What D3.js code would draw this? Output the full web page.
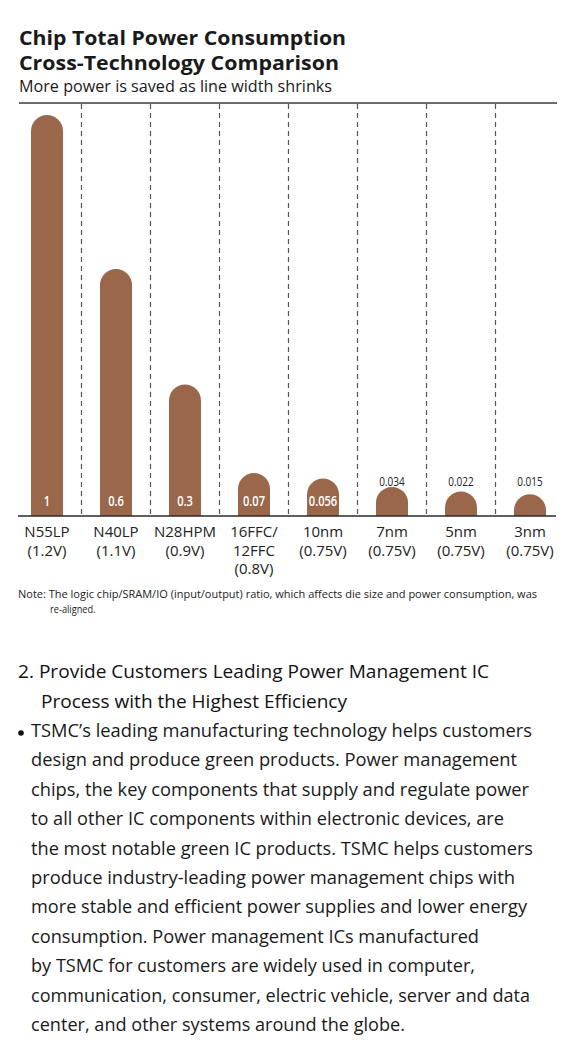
<!DOCTYPE html>
<html><head><meta charset="utf-8">
<script src="https://cdn.jsdelivr.net/npm/d3@7"></script>
<style>
html,body{margin:0;padding:0;background:#fff;}
svg{display:block;}
</style></head>
<body>
<svg id="c" width="582" height="1054"></svg>
<script>
// ---- data ----
const categories = ["N55LP", "N40LP", "N28HPM", "16FFC/12FFC", "10nm", "7nm", "5nm", "3nm"];
const categoryLines = [["N55LP"], ["N40LP"], ["N28HPM"], ["16FFC/", "12FFC"], ["10nm"], ["7nm"], ["5nm"], ["3nm"]];
const voltages = ["1.2V", "1.1V", "0.9V", "0.8V", "0.75V", "0.75V", "0.75V", "0.75V"];
const values = [1, 0.6, 0.3, 0.07, 0.056, 0.034, 0.022, 0.015];
const valueLabels = ["1", "0.6", "0.3", "0.07", "0.056", "0.034", "0.022", "0.015"];

const titleLines = ["Chip Total Power Consumption", "Cross-Technology Comparison"];
const subtitle = "More power is saved as line width shrinks";
const noteLines = ["Note: The logic chip/SRAM/IO (input/output) ratio, which affects die size and power consumption, was", "re-aligned."];
const headingLines = ["2. Provide Customers Leading Power Management IC", "Process with the Highest Efficiency"];
const bodyLines = [
  "TSMC\u2019s leading manufacturing technology helps customers",
  "design and produce green products. Power management",
  "chips, the key components that supply and regulate power",
  "to all other IC components within electronic devices, are",
  "the most notable green IC products. TSMC helps customers",
  "produce industry-leading power management chips with",
  "more stable and efficient power supplies and lower energy",
  "consumption. Power management ICs manufactured",
  "by TSMC for customers are widely used in computer,",
  "communication, consumer, electric vehicle, server and data",
  "center, and other systems around the globe."
];
const bodyWidths = [501, 486, 498, 473, 502, 484, 496, 448, 444, 499, 374];

// ---- layout ----
const svg = d3.select("#c");
const FONT = "'Open Sans','Noto Sans',sans-serif";
const barColor = "#9b674a";
const baseY = 516, topY = 103;
const r = 16;

// condense helper: squeeze text horizontally like a condensed face
function condense(sel, factor) {
  sel.each(function () {
    const w = this.getComputedTextLength();
    d3.select(this).attr("textLength", w * factor).attr("lengthAdjust", "spacingAndGlyphs");
  });
}

// title
svg.selectAll("text.title").data(titleLines).join("text")
  .attr("x", 19).attr("y", (d, i) => 45 + i * 25)
  .attr("font-family", FONT).attr("font-weight", 700).attr("font-size", 20)
  .attr("fill", "#1a1a1a")
  .attr("textLength", (d, i) => [327, 320][i]).attr("lengthAdjust", "spacingAndGlyphs")
  .text(d => d);
svg.append("text").attr("x", 19).attr("y", 92)
  .attr("font-family", FONT).attr("font-size", 16.5).attr("fill", "#1a1a1a")
  .attr("textLength", 313).attr("lengthAdjust", "spacingAndGlyphs")
  .text(subtitle);

// scales
const x = d3.scaleBand().domain(categories).range([12.5, 564.5]).padding(0);
const barW = 2 * r;
const y = d3.scaleLinear().domain([0, 1]).range([baseY, 131]);

// top line
svg.append("line").attr("x1", 19).attr("x2", 557).attr("y1", topY).attr("y2", topY)
  .attr("stroke", "#3a3a3a").attr("stroke-width", 1.6);

// dividers
svg.selectAll("line.div").data(categories.slice(1)).join("line")
  .attr("x1", d => x(d)).attr("x2", d => x(d))
  .attr("y1", topY + 1).attr("y2", baseY)
  .attr("stroke", "#555").attr("stroke-width", 1.2).attr("stroke-dasharray", "5,4");

// bars
const cx = d => x(d) + x.bandwidth() / 2;
svg.selectAll("path.bar").data(values).join("path")
  .attr("fill", barColor)
  .attr("d", (v, i) => {
    const c = cx(categories[i]);
    const x0 = c - r, yy = y(v);
    return `M${x0},${baseY} V${yy} A${r},${r} 0 0 1 ${x0 + barW},${yy} V${baseY} Z`;
  });

// baseline
svg.append("line").attr("x1", 18).attr("x2", 556).attr("y1", baseY).attr("y2", baseY)
  .attr("stroke", "#2a2a2a").attr("stroke-width", 1.5);

// value labels
const vl = svg.selectAll("text.val").data(values).join("text")
  .attr("x", (v, i) => cx(categories[i]))
  .attr("y", v => v >= 0.05 ? 505.5 : 486)
  .attr("text-anchor", "middle")
  .attr("font-family", FONT)
  .attr("font-weight", v => v >= 0.05 ? 600 : 400)
  .attr("font-size", v => v >= 0.05 ? 15 : 13.5)
  .attr("fill", v => v >= 0.05 ? "#fff" : "#222")
  .text((v, i) => valueLabels[i]);
condense(vl, 0.74);

// category labels
categories.forEach((c, i) => {
  const lines = categoryLines[i].concat(["(" + voltages[i] + ")"]);
  svg.append("g").selectAll("text").data(lines).join("text")
    .attr("x", cx(c)).attr("y", (d, j) => 537 + j * 18.5)
    .attr("text-anchor", "middle")
    .attr("font-family", FONT).attr("font-size", 15).attr("fill", "#222")
    .text(d => d);
});

// note
const nt = svg.selectAll("text.note").data(noteLines).join("text")
  .attr("x", (d, i) => i === 0 ? 18 : 50).attr("y", (d, i) => 598 + i * 14.5)
  .attr("font-family", FONT).attr("font-size", 11.5).attr("fill", "#222")
  .text(d => d);
nt.filter((d, i) => i === 0).attr("textLength", 519).attr("lengthAdjust", "spacingAndGlyphs");
condense(nt.filter((d, i) => i === 1), 0.8);

// heading
svg.selectAll("text.head").data(headingLines).join("text")
  .attr("x", (d, i) => i === 0 ? 18 : 41).attr("y", (d, i) => 678 + i * 29.5)
  .attr("font-family", FONT).attr("font-size", 18.5).attr("fill", "#111")
  .attr("textLength", (d, i) => [471, 306][i]).attr("lengthAdjust", "spacingAndGlyphs")
  .text(d => d);

// bullet
svg.append("circle").attr("cx", 21).attr("cy", 733).attr("r", 2.8).attr("fill", "#111");

// body
svg.selectAll("text.body").data(bodyLines).join("text")
  .attr("x", 31).attr("y", (d, i) => 737 + i * 29.4)
  .attr("font-family", FONT).attr("font-size", 18).attr("fill", "#1a1a1a")
  .attr("textLength", (d, i) => bodyWidths[i]).attr("lengthAdjust", "spacingAndGlyphs")
  .text(d => d);
</script>
</body></html>
